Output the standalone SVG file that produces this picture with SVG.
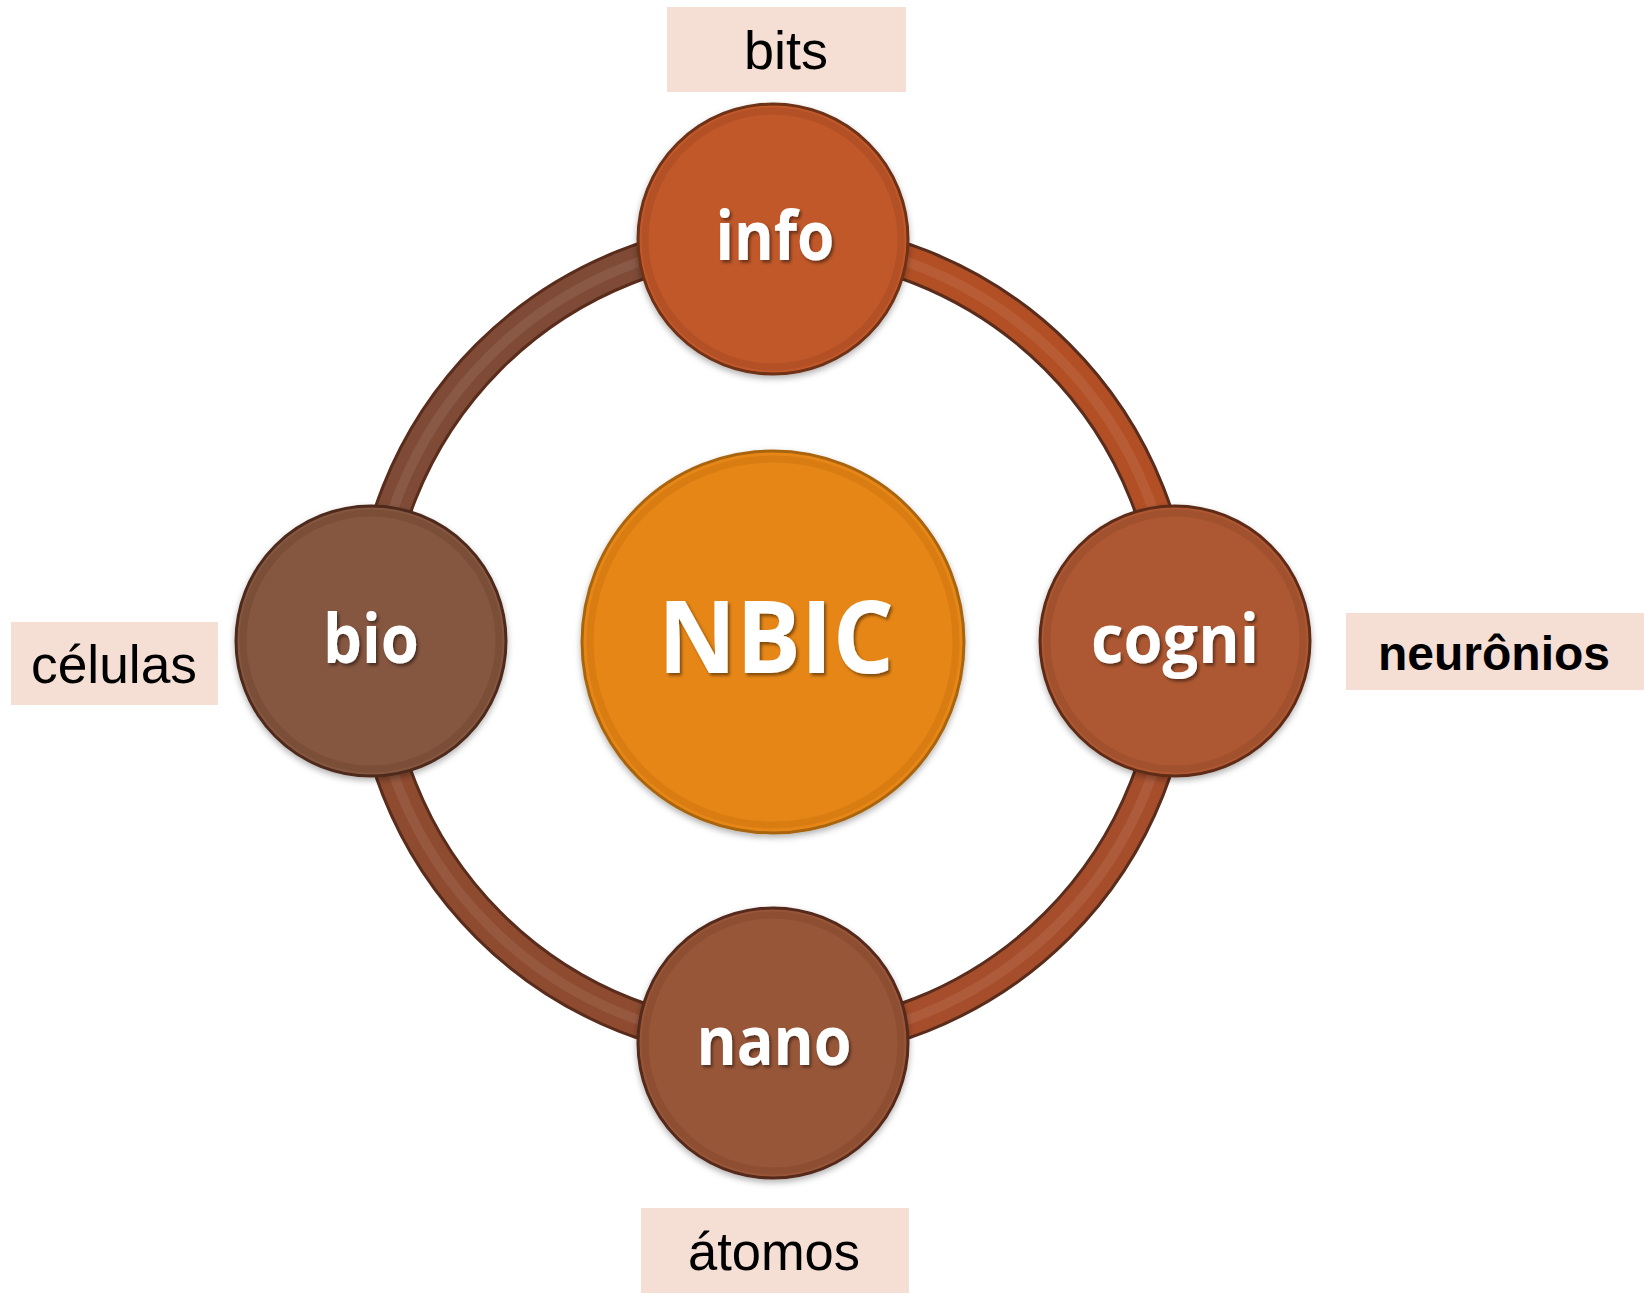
<svg xmlns="http://www.w3.org/2000/svg" width="1644" height="1293" viewBox="0 0 1644 1293">
<defs>
<filter id="ts" x="-20%" y="-20%" width="140%" height="140%">
<feDropShadow dx="2" dy="2.5" stdDeviation="1.5" flood-color="#000" flood-opacity="0.45"/>
</filter>
<filter id="cs" x="-20%" y="-20%" width="140%" height="140%">
<feDropShadow dx="0" dy="3" stdDeviation="3" flood-color="#000" flood-opacity="0.3"/>
</filter>
</defs>
<style>
.box{fill:#F5DED3}
.lbl{font-family:"Liberation Sans",Arial,sans-serif;font-size:54px;fill:#000;text-anchor:middle}
.lblb{font-family:"Liberation Sans",Arial,sans-serif;font-size:48px;font-weight:bold;fill:#000;text-anchor:middle}
.nt{font-family:"Open Sans","DejaVu Sans",sans-serif;font-weight:700;fill:#fff;text-anchor:middle;filter:url(#ts)}
.outline{fill:none;stroke:#5A2C1C;stroke-width:38}
.arc{fill:none;stroke-width:32}
.hl{fill:none;stroke:#fff;stroke-opacity:0.08;stroke-width:10}
.ring{fill:none;stroke-width:7;stroke-opacity:0.35}
</style>
<rect width="1644" height="1293" fill="#fff"/>
<g id="connectors">
<path class="outline" d="M 371 641 A 402 402 0 0 1 773 239"/>
<path class="outline" d="M 773 239 A 402 402 0 0 1 1175 641"/>
<path class="outline" d="M 1175 641 A 402 402 0 0 1 773 1043"/>
<path class="outline" d="M 773 1043 A 402 402 0 0 1 371 641"/>
<path class="arc" stroke="#7F4B37" d="M 371 641 A 402 402 0 0 1 773 239"/>
<path class="arc" stroke="#B24F25" d="M 773 239 A 402 402 0 0 1 1175 641"/>
<path class="arc" stroke="#A64E2B" d="M 1175 641 A 402 402 0 0 1 773 1043"/>
<path class="arc" stroke="#8E4B30" d="M 773 1043 A 402 402 0 0 1 371 641"/>
<circle class="hl" cx="773" cy="641" r="402"/>
</g>
<g id="node-nbic">
<circle cx="773" cy="642" r="191" fill="#E68615" stroke="#A96510" stroke-width="3" filter="url(#cs)"/>
<circle class="ring" cx="773" cy="642" r="183" stroke="#C06E0E"/>
<text class="nt" x="776" y="673" font-size="100" textLength="236" lengthAdjust="spacingAndGlyphs">NBIC</text>
</g>
<g id="node-info">
<circle cx="773" cy="239" r="135" fill="#C0582B" stroke="#6E3017" stroke-width="3" filter="url(#cs)"/>
<circle class="ring" cx="773" cy="239" r="128" stroke="#9A4220"/>
<text class="nt" x="775" y="260" font-size="68" textLength="119" lengthAdjust="spacingAndGlyphs">info</text>
</g>
<g id="node-bio">
<circle cx="371" cy="641" r="135" fill="#85563F" stroke="#4E2A1C" stroke-width="3" filter="url(#cs)"/>
<circle class="ring" cx="371" cy="641" r="128" stroke="#6A3F2C"/>
<text class="nt" x="371" y="663" font-size="68" textLength="96" lengthAdjust="spacingAndGlyphs">bio</text>
</g>
<g id="node-cogni">
<circle cx="1175" cy="641" r="135" fill="#AD5833" stroke="#5E2C18" stroke-width="3" filter="url(#cs)"/>
<circle class="ring" cx="1175" cy="641" r="128" stroke="#8C4424"/>
<text class="nt" x="1175" y="663" font-size="68" textLength="168" lengthAdjust="spacingAndGlyphs">cogni</text>
</g>
<g id="node-nano">
<circle cx="773" cy="1043" r="135" fill="#985638" stroke="#55291A" stroke-width="3" filter="url(#cs)"/>
<circle class="ring" cx="773" cy="1043" r="128" stroke="#7A4029"/>
<text class="nt" x="774" y="1065" font-size="68" textLength="155" lengthAdjust="spacingAndGlyphs">nano</text>
</g>
<g id="label-bits">
<rect class="box" x="667" y="7" width="239" height="85"/>
<text class="lbl" x="786" y="69">bits</text>
</g>
<g id="label-celulas">
<rect class="box" x="11" y="622" width="207" height="83"/>
<text class="lbl" x="114" y="683" textLength="166" lengthAdjust="spacingAndGlyphs">células</text>
</g>
<g id="label-neuronios">
<rect class="box" x="1346" y="613" width="298" height="77"/>
<text class="lblb" x="1494" y="670" textLength="232" lengthAdjust="spacingAndGlyphs">neurônios</text>
</g>
<g id="label-atomos">
<rect class="box" x="641" y="1208" width="268" height="85"/>
<text class="lbl" x="774" y="1270" textLength="172" lengthAdjust="spacingAndGlyphs">átomos</text>
</g>
</svg>
